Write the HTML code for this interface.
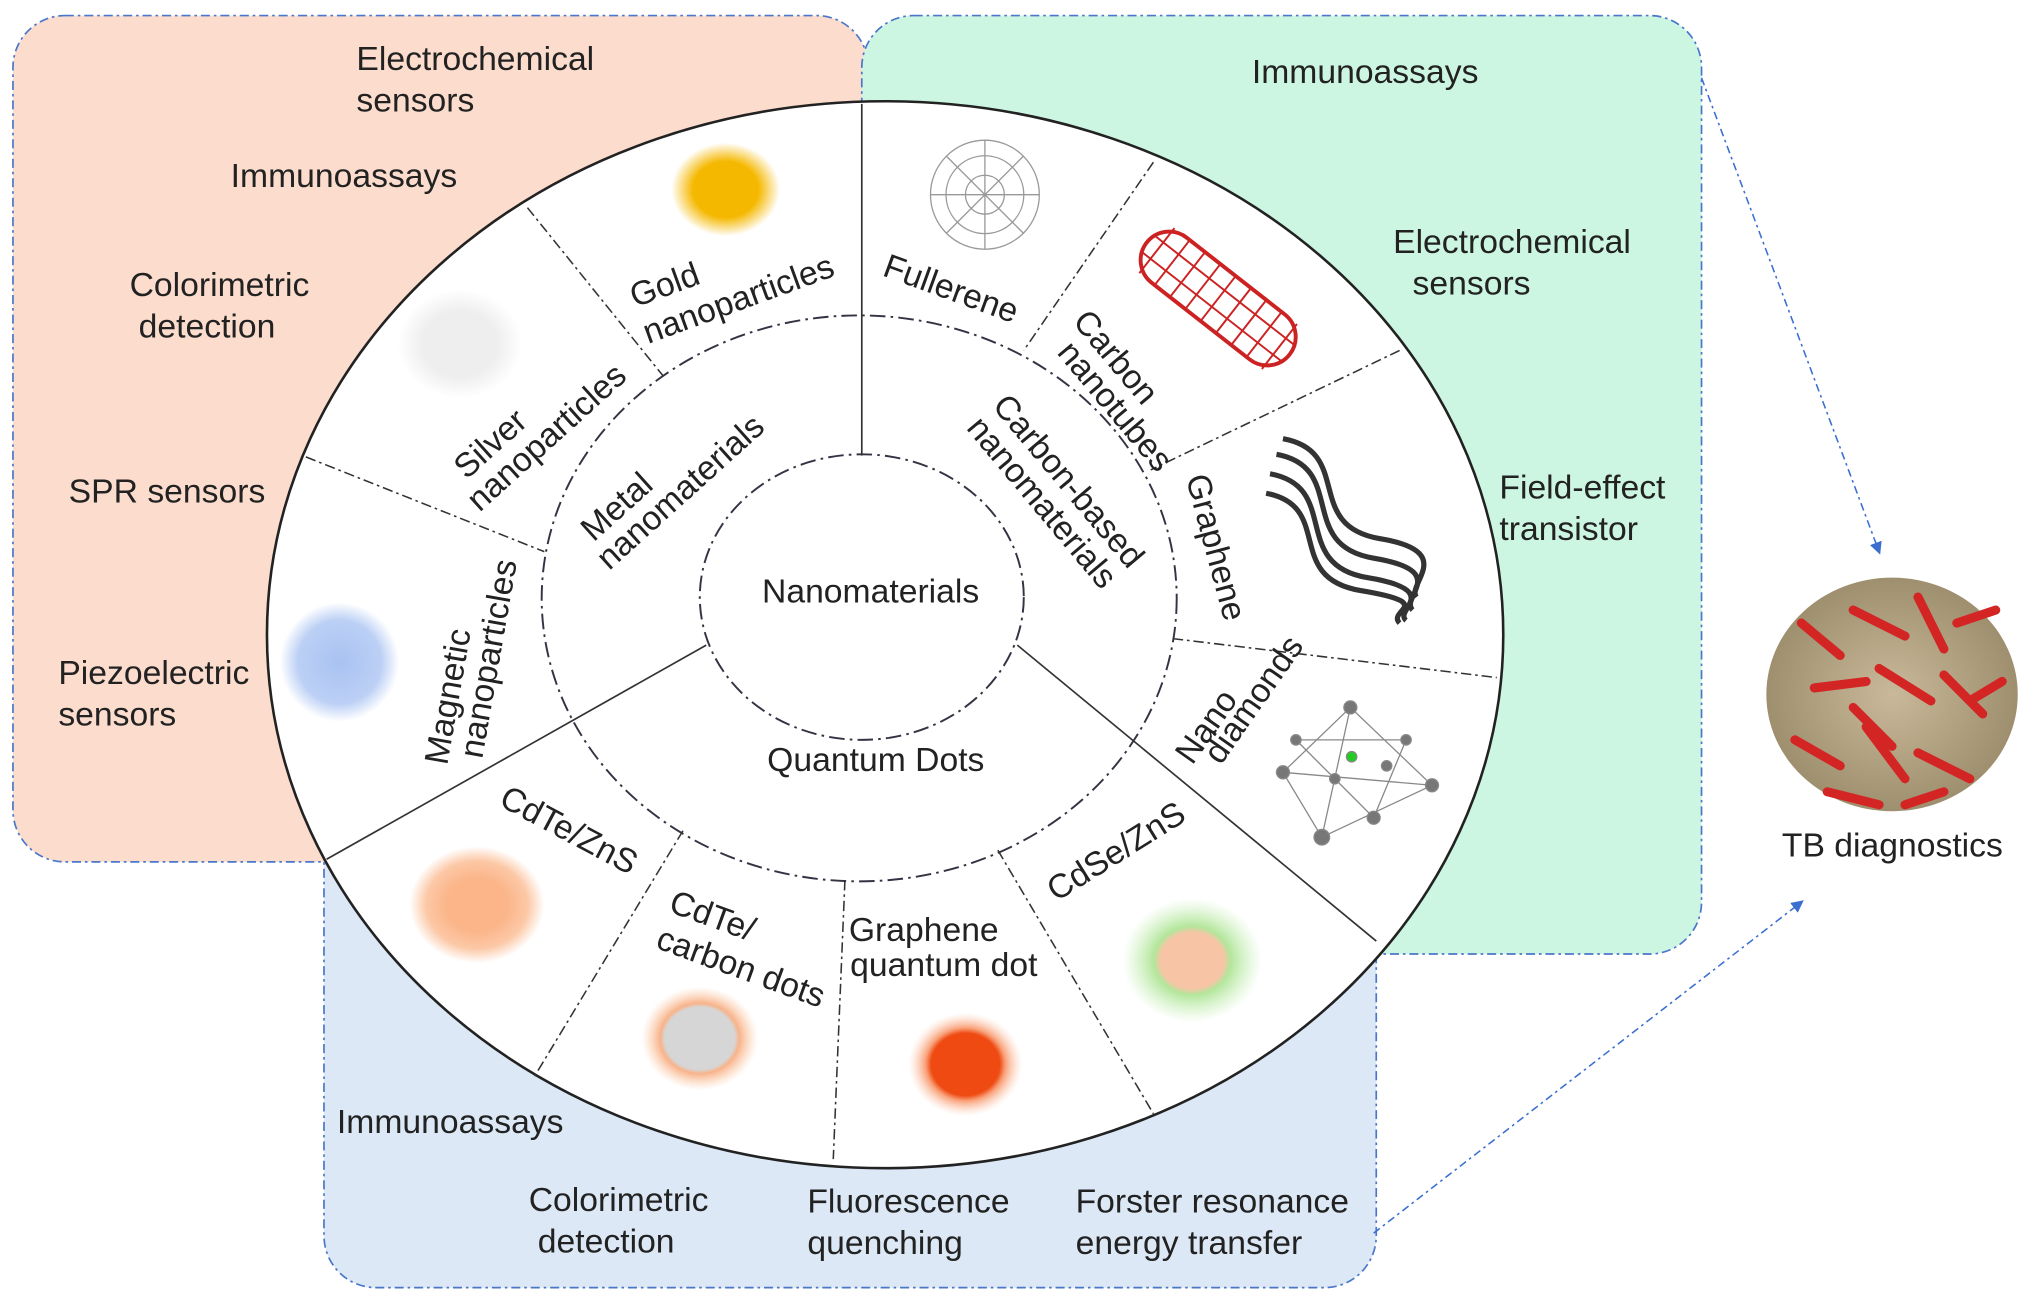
<!DOCTYPE html>
<html><head><meta charset="utf-8"><style>
html,body{margin:0;padding:0;background:#fff;}
svg{display:block;}
text{font-family:"Liberation Sans",Arial,sans-serif;fill:#222;}
</style></head><body>
<svg width="2032" height="1298" viewBox="0 0 1568 1000" preserveAspectRatio="none" xmlns="http://www.w3.org/2000/svg">
<defs>
<radialGradient id="gold"><stop offset="0.6" stop-color="#f5b800"/><stop offset="1" stop-color="#f5b800" stop-opacity="0"/></radialGradient>
<radialGradient id="silver"><stop offset="0.6" stop-color="#eee"/><stop offset="1" stop-color="#eee" stop-opacity="0"/></radialGradient>
<radialGradient id="mag"><stop offset="0" stop-color="#a9c2f2"/><stop offset="0.7" stop-color="#bcd0f5"/><stop offset="1" stop-color="#bcd0f5" stop-opacity="0"/></radialGradient>
<radialGradient id="cdte"><stop offset="0.45" stop-color="#fbb589"/><stop offset="0.75" stop-color="#fcc8a6"/><stop offset="1" stop-color="#fcc8a6" stop-opacity="0"/></radialGradient>
<radialGradient id="cdtec"><stop offset="0.6" stop-color="#d6d6d6"/><stop offset="0.68" stop-color="#f8b38a"/><stop offset="1" stop-color="#fcd0b0" stop-opacity="0"/></radialGradient>
<radialGradient id="gqd"><stop offset="0.6" stop-color="#ee4a12"/><stop offset="0.7" stop-color="#f9a078"/><stop offset="1" stop-color="#fcd5c0" stop-opacity="0"/></radialGradient>
<radialGradient id="cdse"><stop offset="0.45" stop-color="#f7c5a6"/><stop offset="0.55" stop-color="#b3e69b"/><stop offset="1" stop-color="#c8f0b8" stop-opacity="0"/></radialGradient>
<radialGradient id="tb"><stop offset="0" stop-color="#c9b99a"/><stop offset="1" stop-color="#9e8f6e"/></radialGradient>
<marker id="ah" markerWidth="8" markerHeight="8" refX="6" refY="4" orient="auto"><path d="M0,0 L8,4 L0,8z" fill="#3a6fd0"/></marker>
</defs>
<rect x="10" y="12" width="660" height="652" rx="40" fill="#fbdccd" stroke="#4a77c9" stroke-width="1.3" stroke-dasharray="7,3,2,3"/>
<rect x="665" y="12" width="648" height="723" rx="40" fill="#cdf6e2" stroke="#4a77c9" stroke-width="1.3" stroke-dasharray="7,3,2,3"/>
<rect x="250" y="620" width="812" height="372" rx="40" fill="#dce8f5" stroke="#4a77c9" stroke-width="1.3" stroke-dasharray="7,3,2,3"/>
<ellipse cx="683" cy="489" rx="477" ry="411" fill="#fff" stroke="#222" stroke-width="2"/>
<ellipse cx="663" cy="461" rx="245" ry="218" fill="none" stroke="#334" stroke-width="1.5" stroke-dasharray="12,4,2,4"/>
<ellipse cx="665" cy="460" rx="125" ry="110" fill="none" stroke="#334" stroke-width="1.5" stroke-dasharray="12,4,2,4"/>
<g stroke="#333" stroke-width="1.3">
<line x1="665" y1="80" x2="665" y2="351"/>
<line x1="545" y1="497" x2="252" y2="662"/>
<line x1="785" y1="497" x2="1062" y2="725"/>
</g>
<g stroke="#333" stroke-width="1.2" stroke-dasharray="8,3,2,3">
<line x1="407" y1="160" x2="512" y2="290"/>
<line x1="236" y1="352" x2="420" y2="425"/>
<line x1="890" y1="125" x2="790" y2="270"/>
<line x1="1080" y1="270" x2="888" y2="362"/>
<line x1="905" y1="492" x2="1155" y2="522"/>
<line x1="527" y1="640" x2="412" y2="830"/>
<line x1="652" y1="678" x2="643" y2="893"/>
<line x1="770" y1="655" x2="890" y2="858"/>
</g>
<ellipse cx="560" cy="146" rx="42" ry="36" fill="url(#gold)"/>
<ellipse cx="355" cy="265" rx="48" ry="42" fill="url(#silver)"/>
<ellipse cx="262" cy="510" rx="46" ry="46" fill="url(#mag)"/>
<ellipse cx="368" cy="697" rx="52" ry="45" fill="url(#cdte)"/>
<ellipse cx="540" cy="800" rx="45" ry="40" fill="url(#cdtec)"/>
<ellipse cx="745" cy="820" rx="44" ry="40" fill="url(#gqd)"/>
<ellipse cx="920" cy="740" rx="54" ry="48" fill="url(#cdse)"/>
<g fill="none" stroke="#999" stroke-width="1">
<circle cx="760" cy="150" r="42"/><circle cx="760" cy="150" r="30"/><circle cx="760" cy="150" r="15"/>
<path d="M718,150 H802 M760,108 V192 M730,120 L790,180 M790,120 L730,180"/>
</g>
<g transform="translate(940,230) rotate(38)">
<rect x="-70" y="-22" width="140" height="44" rx="22" fill="#fff" stroke="#c22" stroke-width="3"/>
<path d="M-60,-22 V22 M-45,-22 V22 M-30,-22 V22 M-15,-22 V22 M0,-22 V22 M15,-22 V22 M30,-22 V22 M45,-22 V22 M60,-22 V22 M-70,-8 H70 M-70,8 H70" stroke="#c22" stroke-width="1.5"/>
</g>
<g fill="none" stroke="#333" stroke-width="4">
<path d="M985,350 C1040,360 1000,420 1060,430 S1080,460 1090,470"/>
<path d="M980,365 C1035,375 995,435 1055,445 S1075,470 1085,478"/>
<path d="M977,380 C1030,390 990,445 1050,455 S1070,470 1080,480"/>
<path d="M990,338 C1045,348 1005,405 1065,415 S1085,450 1093,460"/>
</g>
<g stroke="#888" stroke-width="1" fill="#777">
<path d="M1042,545 L990,595 L1020,645 L1105,605 Z M1042,545 L1020,645 M1042,545 L1105,605 M990,595 L1105,605 M1000,570 L1085,570 L1060,630 Z" fill="none"/>
<circle cx="1042" cy="545" r="5"/><circle cx="990" cy="595" r="5"/><circle cx="1020" cy="645" r="6"/><circle cx="1105" cy="605" r="5"/>
<circle cx="1000" cy="570" r="4"/><circle cx="1085" cy="570" r="4"/><circle cx="1060" cy="630" r="5"/><circle cx="1030" cy="600" r="4"/><circle cx="1070" cy="590" r="4"/>
<circle cx="1043" cy="583" r="4" fill="#2c2"/>
</g>
<ellipse cx="1460" cy="535" rx="97" ry="90" fill="url(#tb)"/>
<g stroke="#d42525" stroke-width="7" stroke-linecap="round">
<path d="M1390,480 L1420,505 M1430,470 L1470,490 M1480,460 L1500,500 M1510,480 L1540,470 M1400,530 L1440,525 M1450,515 L1490,540 M1500,520 L1530,550 M1385,570 L1420,590 M1440,560 L1470,600 M1480,580 L1520,600 M1410,610 L1450,620 M1470,620 L1500,610 M1520,540 L1545,525 M1430,545 L1460,575"/>
</g>
<g stroke="#3a6fd0" stroke-width="1.2" stroke-dasharray="6,3,2,3" fill="none">
<line x1="1313" y1="60" x2="1450" y2="425" marker-end="url(#ah)"/>
<line x1="1060" y1="950" x2="1390" y2="695" marker-end="url(#ah)"/>
</g>
<g font-size="26">
<text x="275" y="54">Electrochemical</text><text x="275" y="86">sensors</text>
<text x="178" y="144">Immunoassays</text>
<text x="100" y="228">Colorimetric</text><text x="107" y="260">detection</text>
<text x="53" y="387">SPR sensors</text>
<text x="45" y="527">Piezoelectric</text><text x="45" y="559">sensors</text>
<text x="966" y="64">Immunoassays</text>
<text x="1075" y="195">Electrochemical</text><text x="1090" y="227">sensors</text>
<text x="1157" y="384">Field-effect</text><text x="1157" y="416">transistor</text>
<text x="1375" y="660">TB diagnostics</text>
<text x="260" y="873">Immunoassays</text>
<text x="408" y="933">Colorimetric</text><text x="415" y="965">detection</text>
<text x="623" y="934">Fluorescence</text><text x="623" y="966">quenching</text>
<text x="830" y="934">Forster resonance</text><text x="830" y="966">energy transfer</text>
<text x="588" y="464">Nanomaterials</text>
<text x="592" y="594">Quantum Dots</text>
<text x="655" y="725">Graphene</text><text x="656" y="752">quantum dot</text>
<text transform="translate(515,702) rotate(20)">CdTe/</text>
<text transform="translate(505,730) rotate(20)">carbon dots</text>
<text transform="translate(384,620) rotate(28)">CdTe/ZnS</text>
<text transform="translate(815,695) rotate(-32)">CdSe/ZnS</text>
<text transform="translate(345,590) rotate(-80)">Magnetic</text>
<text transform="translate(372,585) rotate(-80)">nanoparticles</text>
<text transform="translate(360,370) rotate(-42)">Silver</text>
<text transform="translate(370,395) rotate(-42)">nanoparticles</text>
<text transform="translate(490,237) rotate(-20)">Gold</text>
<text transform="translate(500,265) rotate(-20)">nanoparticles</text>
<text transform="translate(458,418) rotate(-42)">Metal</text>
<text transform="translate(470,440) rotate(-42)">nanomaterials</text>
<text transform="translate(680,212) rotate(20)">Fullerene</text>
<text transform="translate(827,248) rotate(50)">Carbon</text>
<text transform="translate(815,272) rotate(50)">nanotubes</text>
<text transform="translate(765,313) rotate(50)">Carbon-based</text>
<text transform="translate(745,330) rotate(50)">nanomaterials</text>
<text transform="translate(915,368) rotate(75)">Graphene</text>
<text transform="translate(920,590) rotate(-55)">Nano</text>
<text transform="translate(942,590) rotate(-55)">diamonds</text>
</g>
</svg>
</body></html>
